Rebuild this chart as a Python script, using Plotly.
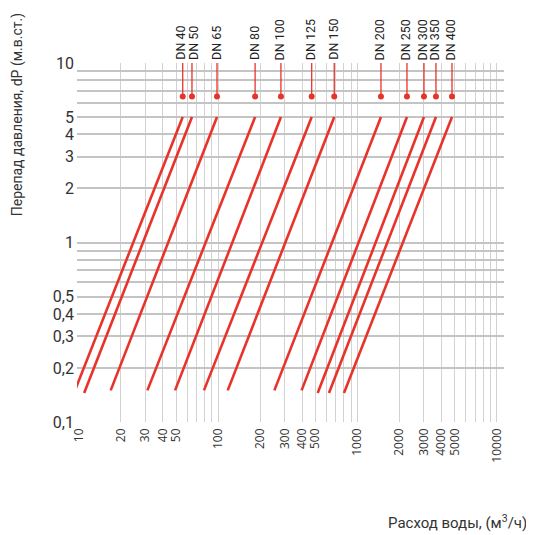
import math
import plotly.graph_objects as go

# ---- data ----
dn_labels = ["DN 40", "DN 50", "DN 65", "DN 80", "DN 100", "DN 125",
             "DN 150", "DN 200", "DN 250", "DN 300", "DN 350", "DN 400"]
flow_low = [9.2, 10.9, 16.9, 31, 49, 79, 117, 253, 397, 518, 624, 800]
flow_high = [55.6, 64.8, 98, 184, 282, 469, 681, 1474, 2266, 3001, 3660, 4770]
dp_low = [0.145, 0.145, 0.15, 0.15, 0.15, 0.15, 0.15, 0.15, 0.15, 0.145, 0.145, 0.145]
dp_high = [5, 5, 5, 5, 5, 5, 5, 5, 5, 5, 5, 5]
dp_marker = 6.5
dp_top = 10

x_tickvals = [10, 20, 30, 40, 50, 100, 200, 300, 400, 500,
              1000, 2000, 3000, 4000, 5000, 10000]
x_ticktext = [str(v) for v in x_tickvals]
x_gridvals = [20, 30, 40, 50, 60, 70, 80, 90, 100,
              200, 300, 400, 500, 600, 700, 800, 900, 1000,
              2000, 3000, 4000, 5000, 6000, 7000, 8000, 9000, 10000]
y_tickvals = [0.1, 0.2, 0.3, 0.4, 0.5, 1, 2, 3, 4, 5, 10]
y_ticktext = ["0,1", "0,2", "0,3", "0,4", "0,5", "1", "2", "3", "4", "5", "10"]
y_gridvals = [0.2, 0.3, 0.4, 0.5, 0.6, 0.7, 0.8, 0.9, 1, 2, 3, 4, 5, 6, 7, 8, 9]

RED = "#e8332a"
TXT = "#333333"
COND = "Roboto, sans-serif"
FONT = "Open Sans, Noto Sans, sans-serif"

fig = go.Figure()

for i, name in enumerate(dn_labels):
    fig.add_trace(go.Scatter(
        x=[flow_low[i], flow_high[i]], y=[dp_low[i], dp_high[i]],
        mode="lines", line=dict(color=RED, width=2.6),
        showlegend=False, hoverinfo="skip"))
    fig.add_trace(go.Scatter(
        x=[flow_high[i], flow_high[i]], y=[dp_marker, dp_top],
        mode="lines", line=dict(color=RED, width=1.3),
        showlegend=False, hoverinfo="skip"))
    shift = -3 if i == 0 else (1 if i == 1 else -1)
    fig.add_annotation(
        x=math.log10(flow_high[i]), xref="x", y=1, yref="paper",
        text=name, textangle=-90, showarrow=False,
        xanchor="center", yanchor="bottom", xshift=shift, yshift=1,
        font=dict(family=COND, size=12.5, color="#222222"))

fig.add_trace(go.Scatter(
    x=flow_high, y=[dp_marker] * len(flow_high), mode="markers",
    marker=dict(color=RED, size=6), showlegend=False, hoverinfo="skip"))

fig.add_annotation(
    x=1.058, xref="paper", y=-0.279, yref="paper",
    text="Расход воды, (м<sup>3</sup>/ч)", showarrow=False,
    xanchor="right", yanchor="middle",
    font=dict(family=COND, size=15, color=TXT))
fig.add_annotation(
    x=-0.14, xref="paper", y=0.855, yref="paper",
    text="Перепад давления, dP (м.в.ст.)", textangle=-90, showarrow=False,
    xanchor="center", yanchor="middle",
    font=dict(family=COND, size=14, color=TXT))

fig.update_layout(
    width=526, height=527,
    margin=dict(l=69, r=30, t=55, b=113),
    paper_bgcolor="white", plot_bgcolor="white",
    showlegend=False,
    xaxis=dict(
        type="log", range=[0.986, 4.052],
        tickmode="array", tickvals=x_tickvals, ticktext=x_ticktext,
        tickangle=-90, ticks="", showgrid=False, zeroline=False, showline=False,
        tickfont=dict(family=FONT, size=12, color=TXT), ticklabelstandoff=3,
        minor=dict(tickmode="array", tickvals=x_gridvals, showgrid=True,
                   gridcolor="#d2d2d2", gridwidth=1.4, ticks=""),
    ),
    yaxis=dict(
        type="log", range=[-1, 1],
        tickmode="array", tickvals=y_tickvals, ticktext=y_ticktext,
        ticks="", showgrid=False, zeroline=False, showline=False,
        tickfont=dict(family=COND, size=16, color=TXT), ticklabelstandoff=2,
        minor=dict(tickmode="array", tickvals=y_gridvals, showgrid=True,
                   gridcolor="#c4c4c4", gridwidth=1.6, ticks=""),
    ),
)

fig.write_html("out.html")
